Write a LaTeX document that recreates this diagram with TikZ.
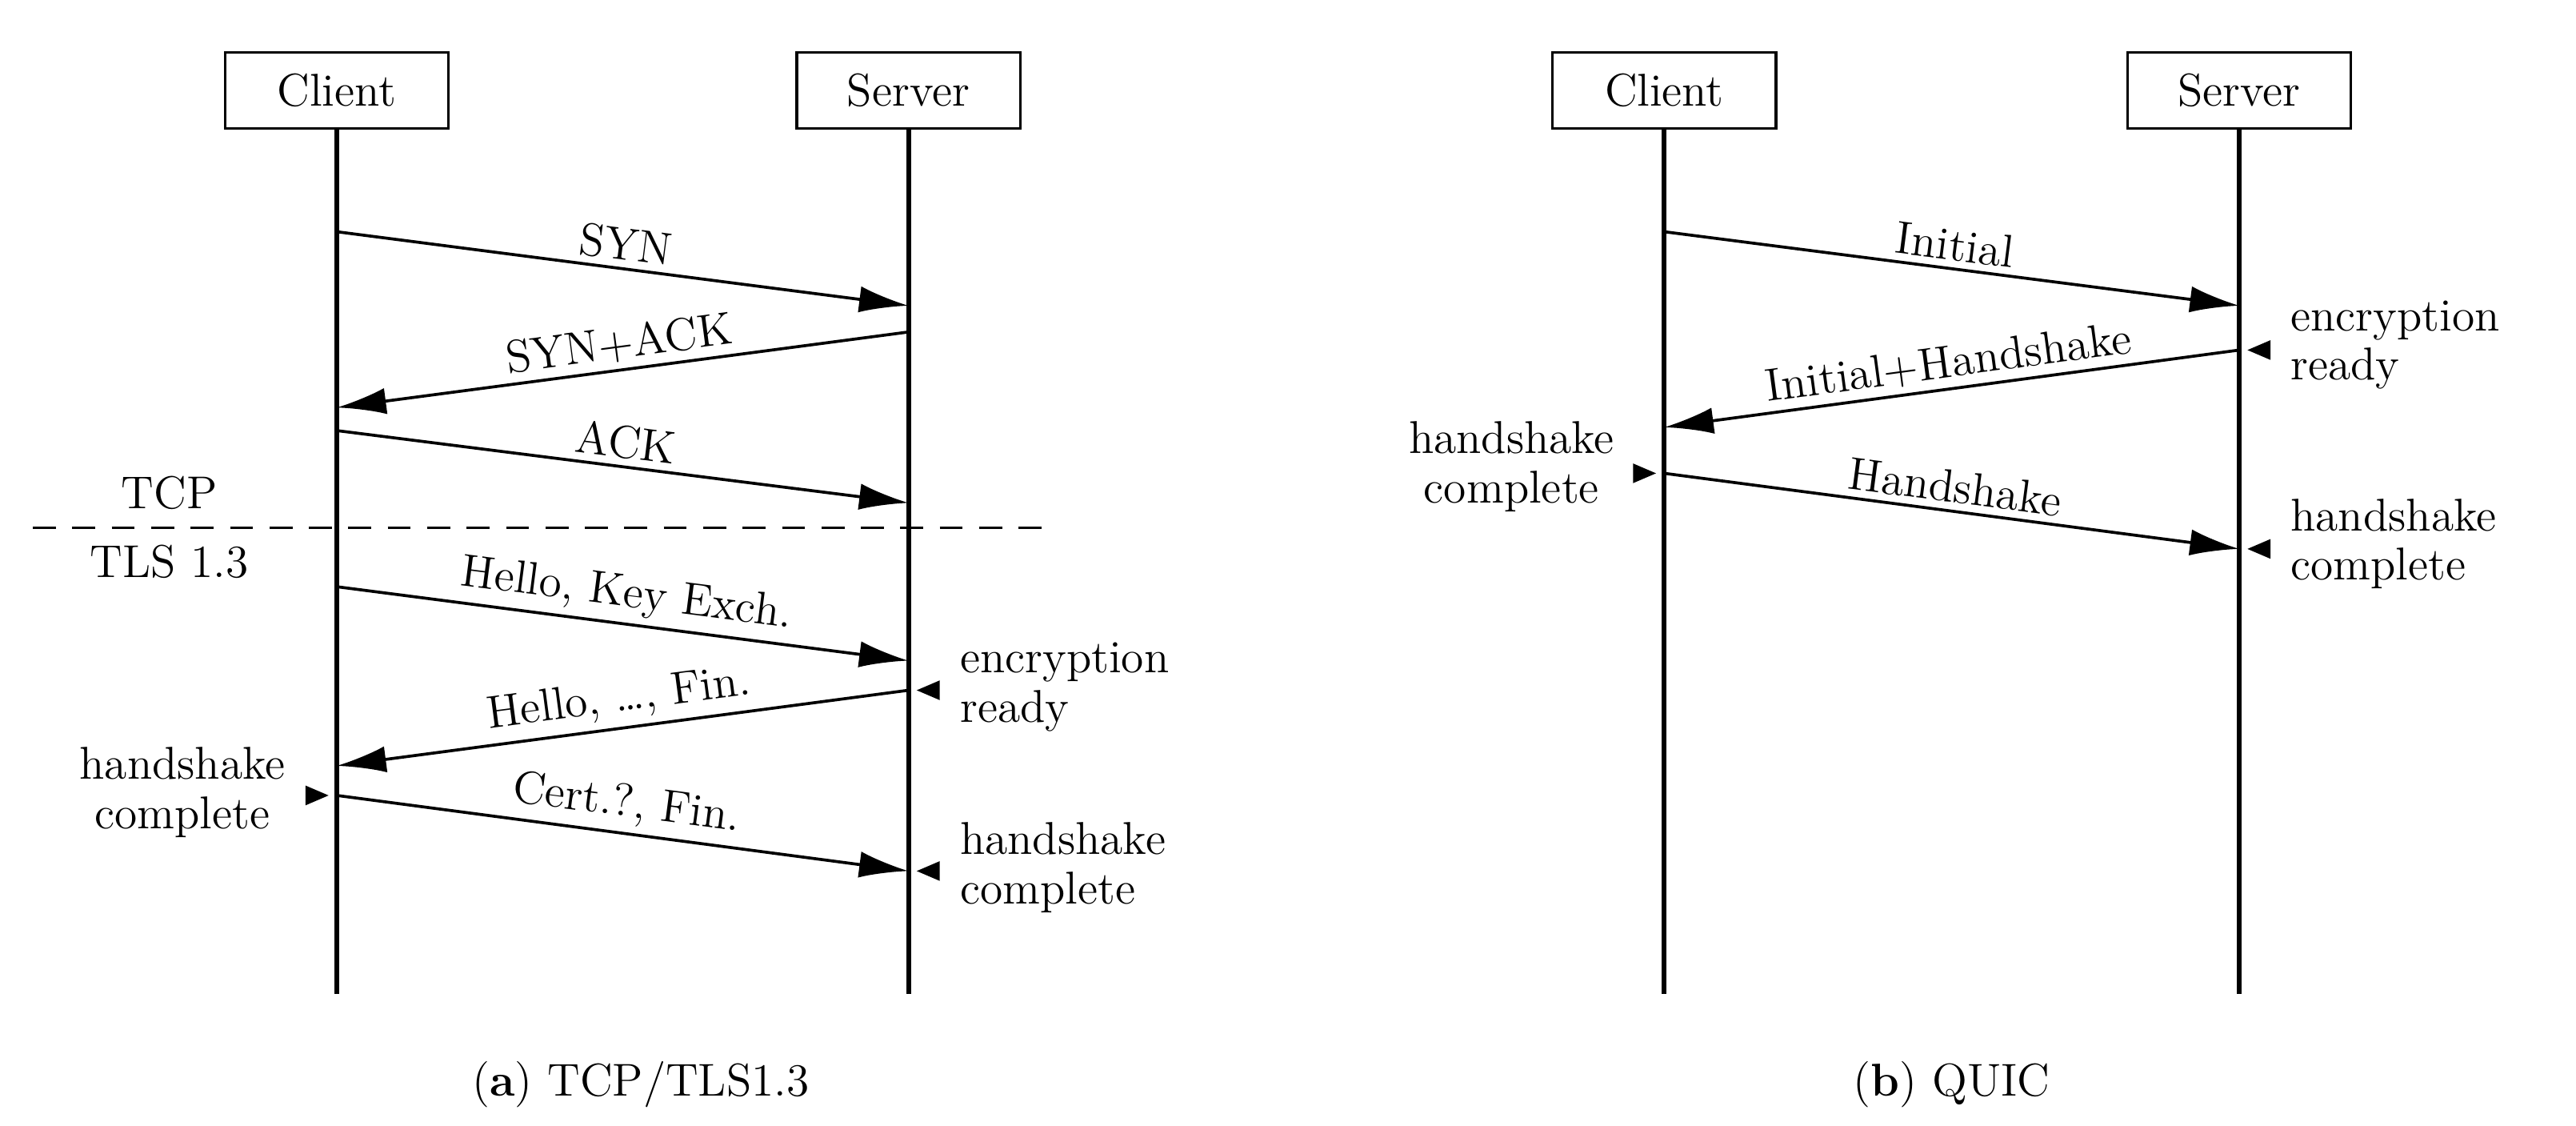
\documentclass[tikz,border=0pt]{standalone}
\usetikzlibrary{arrows.meta}
\begin{document}
\begin{tikzpicture}[x=0.5pt,y=-0.5pt,font=\fontsize{14}{16}\selectfont,
  box/.style={draw,line width=0.8pt,minimum width=68pt,minimum height=23pt,inner sep=0pt},
  life/.style={line width=1.5pt},
  msg/.style={line width=0.9pt,-{Latex[length=15pt,width=8pt]}},
  lab/.style={sloped,above,inner sep=2pt},
  note/.style={align=left,anchor=west,inner sep=0pt,font=\fontsize{14}{15}\selectfont},
  notel/.style={align=center,anchor=east,inner sep=0pt,font=\fontsize{14}{15}\selectfont}]
\useasboundingbox (0,0) rectangle (1568,685);
\newcommand{\mkL}[2]{\fill (#1+5,#2) -- ++(14,-6) -- ++(0,12) -- cycle;}
\newcommand{\mkR}[2]{\fill (#1-5,#2) -- ++(-14,-6) -- ++(0,12) -- cycle;}
% (a)
\node[box] (c1) at (205,55) {Client};
\node[box] (s1) at (553,55) {Server};
\coordinate (c1e) at (205,605); \coordinate (s1e) at (553,605);
\draw[life] (c1) -- (c1e); \draw[life] (s1) -- (s1e);
\coordinate (a1) at (205,141); \coordinate (a2) at (553,186);
\coordinate (a3) at (553,202); \coordinate (a4) at (205,248);
\coordinate (a5) at (205,262); \coordinate (a6) at (553,306);
\coordinate (a7) at (205,357); \coordinate (a8) at (553,402);
\coordinate (a9) at (553,420); \coordinate (a10) at (205,466);
\coordinate (a11) at (205,484); \coordinate (a12) at (553,530);
\draw[msg] (a1) -- node[lab]{SYN} (a2);
\draw[msg] (a3) -- node[lab]{SYN+ACK} (a4);
\draw[msg] (a5) -- node[lab]{ACK} (a6);
\draw[msg] (a7) -- node[lab]{Hello, Key Exch.} (a8);
\draw[msg] (a9) -- node[lab]{Hello, \ldots, Fin.} (a10);
\draw[msg] (a11) -- node[lab]{Cert.?, Fin.} (a12);
\coordinate (d1) at (20,321); \coordinate (d2) at (638,321);
\draw[dashed,line width=0.8pt,dash pattern=on 7pt off 5pt] (d1) -- (d2);
\node (tcp) at (103,300) {TCP};
\node (tls) at (103,342) {TLS 1.3};
\mkL{553}{420}\node[note] (er1) at (584,418) {encryption\\ready};
\mkR{205}{484}\node[notel] (hc1) at (174,482) {handshake\\complete};
\mkL{553}{530}\node[note] (hc2) at (584,528) {handshake\\complete};
\node (capa) at (390,660) {(\textbf{a}) TCP/TLS1.3};
% (b)
\node[box] (c2) at (1013,55) {Client};
\node[box] (s2) at (1363,55) {Server};
\coordinate (c2e) at (1013,605); \coordinate (s2e) at (1363,605);
\draw[life] (c2) -- (c2e); \draw[life] (s2) -- (s2e);
\coordinate (b1) at (1013,141); \coordinate (b2) at (1363,186);
\coordinate (b3) at (1363,213); \coordinate (b4) at (1013,260);
\coordinate (b5) at (1013,288); \coordinate (b6) at (1363,334);
\draw[msg] (b1) -- node[lab]{Initial} (b2);
\draw[msg] (b3) -- node[lab]{Initial+Handshake} (b4);
\draw[msg] (b5) -- node[lab]{Handshake} (b6);
\mkL{1363}{213}\node[note] (er2) at (1394,210) {encryption\\ready};
\mkR{1013}{288}\node[notel] (hc3) at (983,284) {handshake\\complete};
\mkL{1363}{334}\node[note] (hc4) at (1394,331) {handshake\\complete};
\node (capb) at (1188,660) {(\textbf{b}) QUIC};
\end{tikzpicture}
\end{document}
